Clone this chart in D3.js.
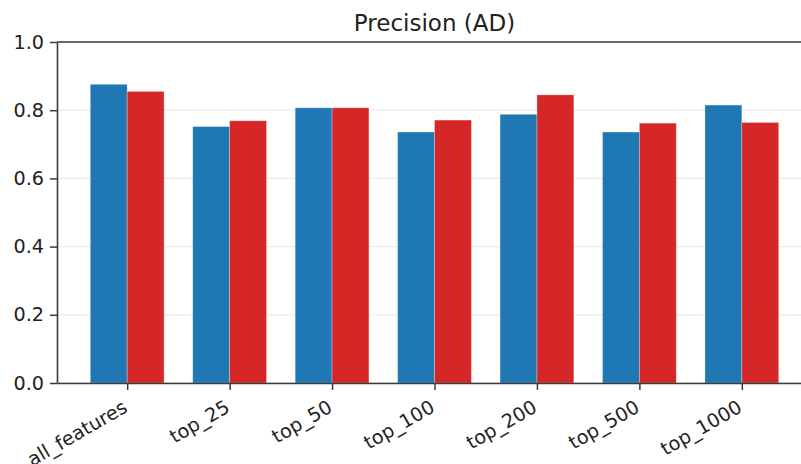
<!DOCTYPE html>
<html>
<head>
<meta charset="utf-8">
<script src="https://cdn.jsdelivr.net/npm/d3@7"></script>
<style>
  body { margin: 0; background: #fff; }
  svg { display: block; }
  svg text { font-family: "DejaVu Sans", sans-serif; }
</style>
</head>
<body>
<div id="plot"></div>
<script>
var categories = ["all_features", "top_25", "top_50", "top_100", "top_200", "top_500", "top_1000"];
var blueValues = [0.876, 0.752, 0.807, 0.736, 0.788, 0.736, 0.815];
var redValues = [0.855, 0.769, 0.807, 0.771, 0.845, 0.762, 0.764];
var yTicks = [0.0, 0.2, 0.4, 0.6, 0.8, 1.0];

var margin = { top: 42, right: 0, bottom: 81, left: 57 },
    width = 812 - margin.left,
    height = 464 - margin.top - margin.bottom,
    barW = 0.36;

var xScale = d3.scaleLinear()
    .domain([-0.685, categories.length - 1 + 0.685])
    .range([0, width]);

var yScale = d3.scaleLinear()
    .domain([0, 1])
    .range([height, 0]);

var svg = d3.select("#plot").append("svg")
    .attr("width", 801)
    .attr("height", 464)
    .append("g")
    .attr("transform", "translate(" + margin.left + "," + margin.top + ")");

// grid
svg.append("g")
    .selectAll("line")
    .data(yTicks)
    .enter().append("line")
    .attr("x1", 0)
    .attr("x2", width)
    .attr("y1", function(d) { return yScale(d); })
    .attr("y2", function(d) { return yScale(d); })
    .attr("stroke", "#ebebeb")
    .attr("stroke-width", 1.3);

// bars
svg.append("g")
    .selectAll("rect")
    .data(blueValues)
    .enter().append("rect")
    .attr("x", function(d, i) { return xScale(i - barW); })
    .attr("width", function() { return xScale(barW) - xScale(0); })
    .attr("y", function(d) { return yScale(d); })
    .attr("height", function(d) { return height - yScale(d); })
    .attr("fill", "#1f77b4")
    .attr("stroke", "#fff")
    .attr("stroke-opacity", 0.35)
    .attr("stroke-width", 0.8);

svg.append("g")
    .selectAll("rect")
    .data(redValues)
    .enter().append("rect")
    .attr("x", function(d, i) { return xScale(i); })
    .attr("width", function() { return xScale(barW) - xScale(0); })
    .attr("y", function(d) { return yScale(d); })
    .attr("height", function(d) { return height - yScale(d); })
    .attr("fill", "#d62728")
    .attr("stroke", "#fff")
    .attr("stroke-opacity", 0.35)
    .attr("stroke-width", 0.8);

// axes
var xAxis = d3.axisBottom(xScale)
    .tickValues(d3.range(categories.length))
    .tickFormat(function(d) { return categories[d]; })
    .tickSize(7)
    .tickSizeOuter(0);

var yAxis = d3.axisLeft(yScale)
    .tickValues(yTicks)
    .tickFormat(d3.format(".1f"))
    .tickSize(7)
    .tickSizeOuter(0);

var gx = svg.append("g")
    .attr("transform", "translate(0," + height + ")")
    .call(xAxis);
gx.select(".domain").attr("stroke", "#3a3a3a").attr("stroke-width", 1.6);
gx.selectAll(".tick line").attr("stroke", "#3a3a3a").attr("stroke-width", 1.5);
gx.selectAll(".tick text")
    .attr("font-size", 19.2)
    .attr("fill", "#222")
    .attr("text-anchor", "end")
    .attr("dy", null)
    .attr("y", 0)
    .attr("transform", "translate(1,28) rotate(-30)");

var gy = svg.append("g").call(yAxis);
gy.select(".domain").attr("stroke", "#3a3a3a").attr("stroke-width", 1.6);
gy.selectAll(".tick line").attr("stroke", "#3a3a3a").attr("stroke-width", 1.5);
gy.selectAll(".tick text")
    .attr("font-size", 19.2)
    .attr("fill", "#222")
    .attr("x", -13);

// top spine
svg.append("line")
    .attr("x1", 0).attr("x2", width)
    .attr("y1", 0).attr("y2", 0)
    .attr("stroke", "#3a3a3a")
    .attr("stroke-width", 1.6);

// title
svg.append("text")
    .attr("x", width / 2)
    .attr("y", -11)
    .style("text-anchor", "middle")
    .attr("font-size", 23)
    .attr("fill", "#222")
    .text("Precision (AD)");
</script>
</body>
</html>
